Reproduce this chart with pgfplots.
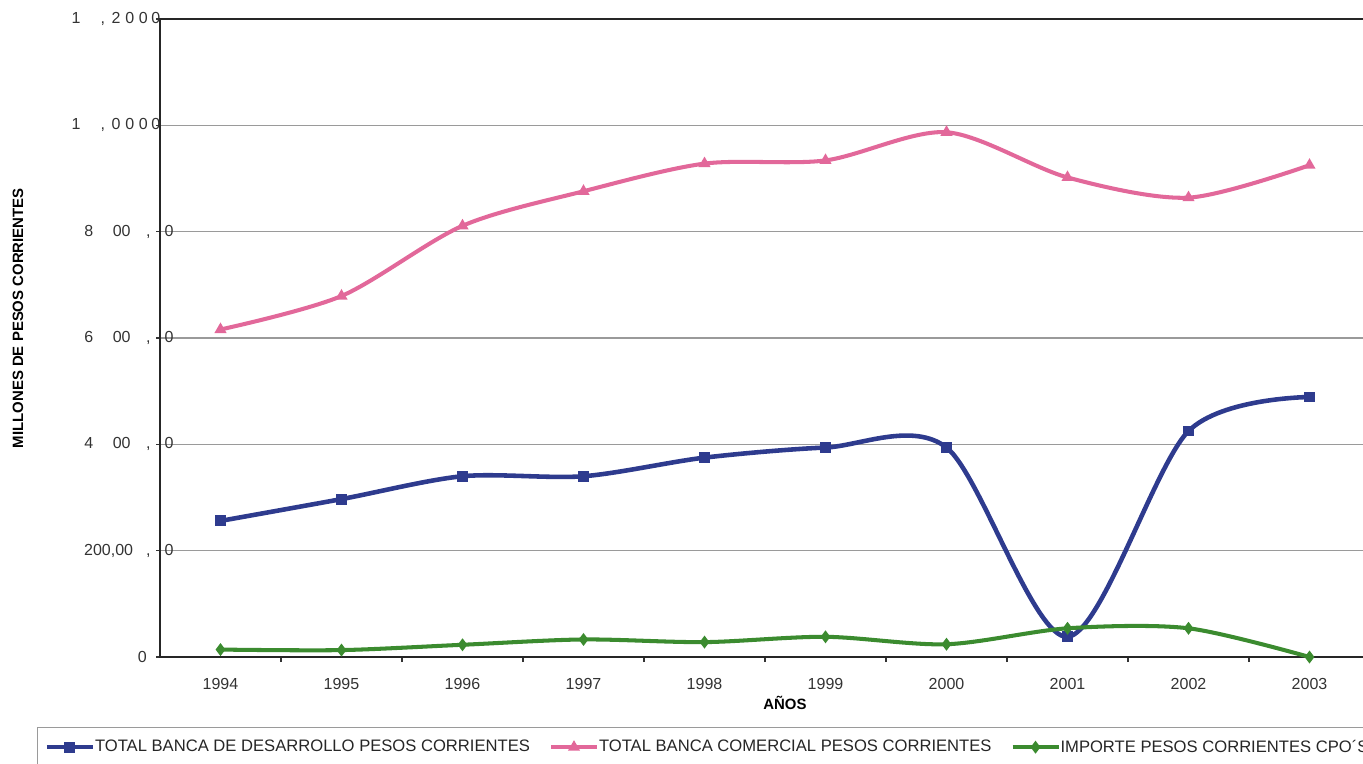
\documentclass[border=0pt]{standalone}
\usepackage{pgfplots}
\pgfplotsset{compat=1.18}
\usepackage{fontspec}
\setmainfont{Liberation Sans}
\definecolor{cBlue}{HTML}{2E3B8E}
\definecolor{cPink}{HTML}{E2689A}
\definecolor{cGreen}{HTML}{3B8B2F}
\definecolor{cGrid}{HTML}{9A9A9A}
\begin{document}
\begin{tikzpicture}
\useasboundingbox (-3.2cm,-2.12cm) rectangle (24.06cm,13.14cm);
\clip (-3.2cm,-2.12cm) rectangle (24.06cm,13.14cm);
\begin{axis}[
  at={(0,0)}, anchor=south west,
  scale only axis, width=24.2cm, height=12.76cm,
  xmin=1993.5, xmax=2003.5, ymin=0, ymax=1200,
  clip=false,
  axis line style={black!85, line width=0.9pt},
  tick pos=left,
  tick align=outside,
  xtick={1994,1995,1996,1997,1998,1999,2000,2001,2002,2003},
  xticklabels={1994,1995,1996,1997,1998,1999,2000,2001,2002,2003},
  minor xtick={1994.5,1995.5,1996.5,1997.5,1998.5,1999.5,2000.5,2001.5,2002.5},
  major x tick style={draw=none},
  minor x tick style={black!80, line width=0.6pt},
  minor tick length=0.1cm,
  ytick={0,200,400,600,800,1000,1200},
  ytick style={black!80, line width=0.6pt},
  major tick length=0.08cm,
  yticklabels={
    {0\kern0.27cm},
    {200,00\kern0.26cm,\kern0.28cm0\kern-0.266cm},
    {4\kern0.39cm00\kern0.31cm,\kern0.28cm0\kern-0.266cm},
    {6\kern0.39cm00\kern0.31cm,\kern0.28cm0\kern-0.266cm},
    {8\kern0.39cm00\kern0.31cm,\kern0.28cm0\kern-0.266cm},
    {1\kern0.40cm,\kern0.13cm0\kern0.10cm0\kern0.09cm0\kern0.07cm0},
    {1\kern0.40cm,\kern0.13cm2\kern0.10cm0\kern0.09cm0\kern0.07cm0}},
  yticklabel style={anchor=east, inner sep=0pt, xshift=0.09cm, font=\fontsize{9.1}{11}\selectfont, text=black!80},
  xticklabel style={anchor=north, inner sep=0pt, yshift=-0.34cm, font=\fontsize{9.1}{11}\selectfont, text=black!80},
  ymajorgrids,
  grid style={cGrid, line width=0.6pt},
  xlabel={AÑOS},
  xlabel style={at={(axis description cs:0.5165,-0.072)}, anchor=center, font=\bfseries\fontsize{8.5}{10}\selectfont},
  ylabel={MILLONES DE PESOS CORRIENTES},
  ylabel style={at={(axis description cs:-0.1174,0.531)}, anchor=center, font=\bfseries\fontsize{8.5}{10}\selectfont},
  legend style={at={(axis description cs:-0.1017,-0.1097)}, anchor=north west,
    draw=cGrid, line width=0.6pt, inner xsep=0.14cm, inner ysep=0.245cm,
    legend columns=3, font=\fontsize{9.45}{11}\selectfont, text=black!85,
    /tikz/every odd column/.append style={column sep=0cm},
    /tikz/every even column/.append style={column sep=0.38cm},
    nodes={inner sep=0pt}},
  legend cell align=left,
  legend image code/.code={\draw[mark repeat=2,mark phase=2,#1] plot coordinates {(0cm,0cm) (0.46cm,0cm) (0.92cm,0cm)};},
]
\addplot[cBlue, line width=2.6pt, smooth, tension=0.5, mark=square*, mark size=1.8pt, mark options={solid}]
  coordinates {(1994,256)(1995,297)(1996,340)(1997,340)(1998,375)(1999,394)(2000,394)(2001,38)(2002,425)(2003,489)};
\addlegendentry{TOTAL BANCA DE DESARROLLO PESOS CORRIENTES}
\addplot[cPink, line width=2.3pt, smooth, tension=0.5, mark=triangle*, mark size=1.7pt, mark options={solid}]
  coordinates {(1994,616)(1995,679)(1996,811)(1997,876)(1998,928)(1999,934)(2000,987)(2001,902)(2002,864)(2003,925)};
\addlegendentry{TOTAL BANCA COMERCIAL PESOS CORRIENTES}
\addplot[cGreen, line width=2.3pt, smooth, tension=0.5, mark=diamond*, mark size=1.8pt, mark options={solid}]
  coordinates {(1994,14)(1995,13)(1996,23)(1997,33)(1998,28)(1999,38)(2000,24)(2001,54)(2002,54)(2003,0)};
\addlegendentry{IMPORTE PESOS CORRIENTES CPO´S}
\end{axis}
\end{tikzpicture}
\end{document}
